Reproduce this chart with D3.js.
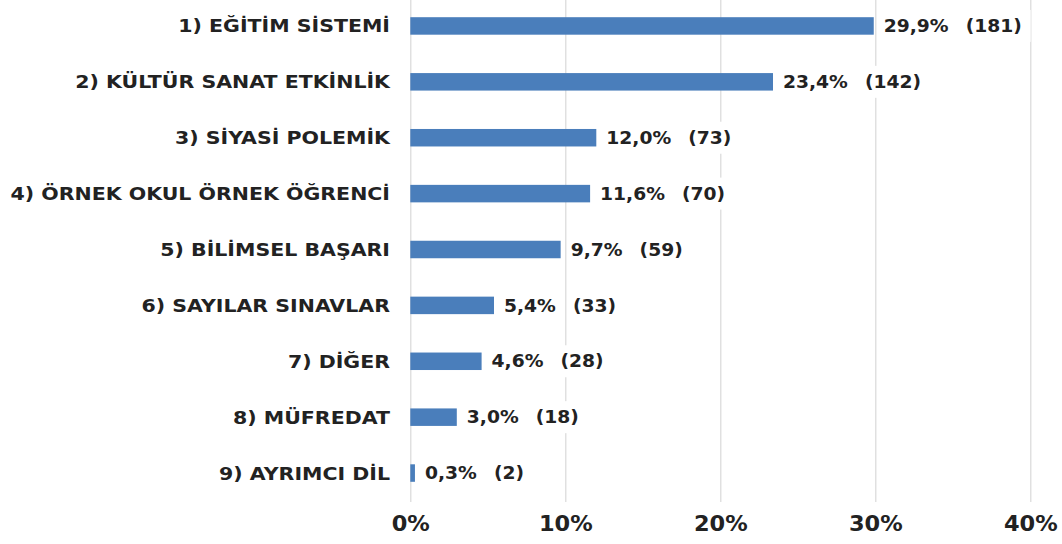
<!DOCTYPE html>
<html>
<head>
<meta charset="utf-8">
<script src="https://cdn.jsdelivr.net/npm/d3@7"></script>
<style>
  html, body { margin: 0; padding: 0; background: #fff; }
  svg { display: block; }
  text { font-family: "DejaVu Sans", Verdana, sans-serif; font-weight: bold; fill: #222; }
</style>
</head>
<body>
<svg id="chart" width="1062" height="544"></svg>
<script>
const categories = [
  "1) EĞİTİM SİSTEMİ",
  "2) KÜLTÜR SANAT ETKİNLİK",
  "3) SİYASİ POLEMİK",
  "4) ÖRNEK OKUL ÖRNEK ÖĞRENCİ",
  "5) BİLİMSEL BAŞARI",
  "6) SAYILAR SINAVLAR",
  "7) DİĞER",
  "8) MÜFREDAT",
  "9) AYRIMCI DİL"
];
const percents = [0.299, 0.234, 0.120, 0.116, 0.097, 0.054, 0.046, 0.030, 0.003];
const counts = [181, 142, 73, 70, 59, 33, 28, 18, 2];
const tickValues = [0, 0.1, 0.2, 0.3, 0.4];

const svg = d3.select("#chart");
const plotLeft = 410.3, plotRight = 1030.3, plotTop = -2, plotBottom = 502;

const x = d3.scaleLinear().domain([0, 0.4]).range([plotLeft, plotRight]);
const y = d3.scaleBand().domain(categories).range([plotTop, plotBottom - 1])
  .paddingInner(0.687).paddingOuter(0.3435);

// gridlines + tick labels
const axis = d3.axisBottom(x).tickValues(tickValues)
  .tickFormat(d3.format(".0%"))
  .tickSize(-plotBottom).tickPadding(14);
const gx = svg.append("g").attr("transform", `translate(0,${plotBottom})`).call(axis);
gx.select(".domain").remove();
gx.selectAll(".tick line").attr("stroke", "#d9d9d9").attr("stroke-width", 1.2);
gx.selectAll(".tick text")
  .attr("fill", "#222")
  .attr("transform", "translate(0,14) scale(1.07,1) translate(0,-14)")
  .style("font-size", "21px")
  .style("font-family", "'DejaVu Sans', Verdana, sans-serif")
  .style("font-weight", "bold");

const data = categories.map((c, i) => ({ c, p: percents[i], n: counts[i] }));

// bars
svg.append("g").selectAll("rect").data(data).join("rect")
  .attr("x", x(0))
  .attr("y", d => y(d.c))
  .attr("width", d => x(d.p) - x(0))
  .attr("height", y.bandwidth())
  .attr("fill", "#4a7ebb");

// category labels
svg.append("g").selectAll("g").data(data).join("g")
  .attr("transform", d => `translate(390,${y(d.c) + y.bandwidth() / 2}) scale(1.14,1)`)
  .append("text")
  .attr("dy", "0.36em")
  .attr("text-anchor", "end")
  .style("font-size", "18px")
  .text(d => d.c);

// value labels
const sx = 1.1;
const fmtPct = d => d3.format(".1f")(d * 100).replace(".", ",") + "%";
const vg = svg.append("g");
data.forEach(d => {
  const cy = y(d.c) + y.bandwidth() / 2;
  const px = x(d.p) + 10;
  const pg = vg.append("g").attr("transform", `translate(${px},${cy}) scale(${sx},1)`);
  const pt = pg.append("text")
    .attr("dy", "0.36em")
    .style("font-size", "17px")
    .text(fmtPct(d.p));
  const pw = pt.node().getBBox().width * sx;
  const cx = px + pw + 17;
  const g = vg.append("g").attr("transform", `translate(${cx},${cy}) scale(${sx},1)`);
  const rect = g.append("rect").attr("fill", "#fff");
  const ct = g.append("text")
    .attr("dy", "0.36em")
    .style("font-size", "17px")
    .text(`(${d.n})`);
  const bb = ct.node().getBBox();
  rect.attr("x", bb.x - 5).attr("y", -16)
    .attr("width", bb.width + 13).attr("height", 32);
});
</script>
</body>
</html>
